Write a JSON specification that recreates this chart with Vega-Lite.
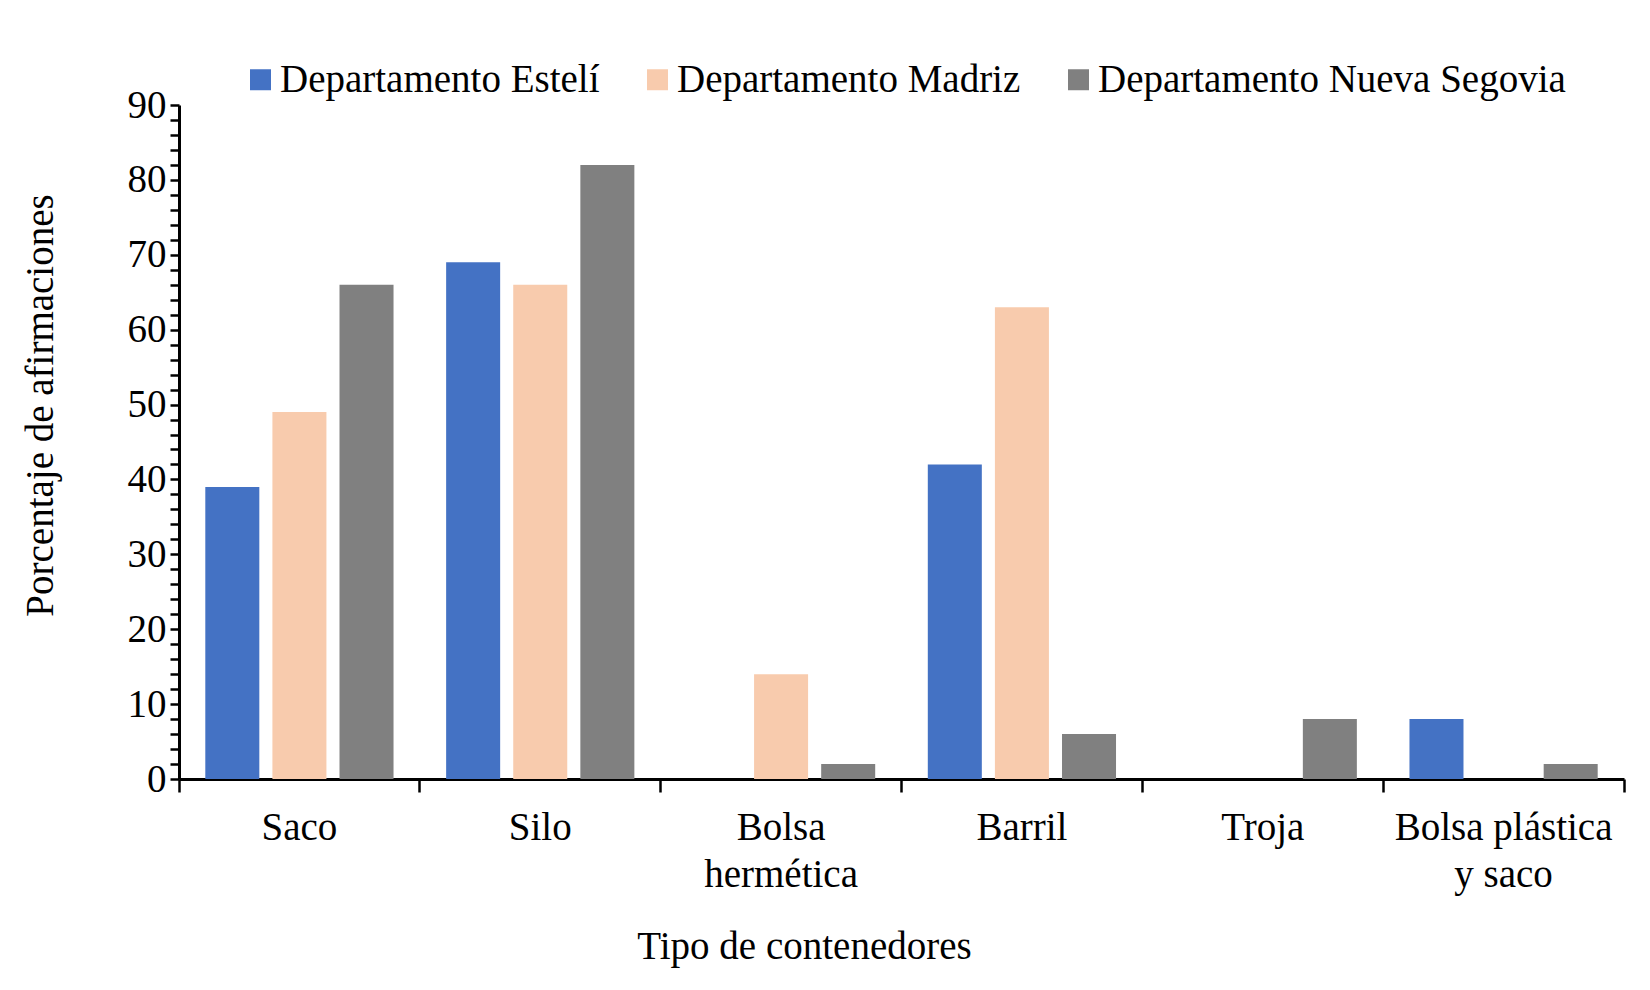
{
  "$schema": "https://vega.github.io/schema/vega-lite/v6.json",
  "autosize": {"type": "none"},
  "width": 1445,
  "height": 674,
  "padding": {"left": 179, "top": 105, "right": 26, "bottom": 211},
  "background": "white",
  "config": {
    "view": {"stroke": null},
    "font": "Liberation Serif",
    "axis": {"grid": false, "domainColor": "black", "tickColor": "black", "labelColor": "black", "titleColor": "black", "labelFont": "Liberation Serif", "titleFont": "Liberation Serif", "titleFontWeight": "normal"},
    "legend": {"labelFont": "Liberation Serif"}
  },
  "data": {
    "values": [
      {"tipo": "Saco", "departamento": "Departamento Estelí", "porcentaje": 39},
      {"tipo": "Saco", "departamento": "Departamento Madriz", "porcentaje": 49},
      {"tipo": "Saco", "departamento": "Departamento Nueva Segovia", "porcentaje": 66},
      {"tipo": "Silo", "departamento": "Departamento Estelí", "porcentaje": 69},
      {"tipo": "Silo", "departamento": "Departamento Madriz", "porcentaje": 66},
      {"tipo": "Silo", "departamento": "Departamento Nueva Segovia", "porcentaje": 82},
      {"tipo": "Bolsa hermética", "departamento": "Departamento Estelí", "porcentaje": 0},
      {"tipo": "Bolsa hermética", "departamento": "Departamento Madriz", "porcentaje": 14},
      {"tipo": "Bolsa hermética", "departamento": "Departamento Nueva Segovia", "porcentaje": 2},
      {"tipo": "Barril", "departamento": "Departamento Estelí", "porcentaje": 42},
      {"tipo": "Barril", "departamento": "Departamento Madriz", "porcentaje": 63},
      {"tipo": "Barril", "departamento": "Departamento Nueva Segovia", "porcentaje": 6},
      {"tipo": "Troja", "departamento": "Departamento Estelí", "porcentaje": 0},
      {"tipo": "Troja", "departamento": "Departamento Madriz", "porcentaje": 0},
      {"tipo": "Troja", "departamento": "Departamento Nueva Segovia", "porcentaje": 8},
      {"tipo": "Bolsa plástica y saco", "departamento": "Departamento Estelí", "porcentaje": 8},
      {"tipo": "Bolsa plástica y saco", "departamento": "Departamento Madriz", "porcentaje": 0},
      {"tipo": "Bolsa plástica y saco", "departamento": "Departamento Nueva Segovia", "porcentaje": 2}
    ]
  },
  "encoding": {
    "xOffset": {
      "field": "departamento",
      "type": "nominal",
      "sort": ["Departamento Estelí", "Departamento Madriz", "Departamento Nueva Segovia"],
      "scale": {"paddingInner": 0.195, "paddingOuter": 0.392}
    },
    "y": {
      "field": "porcentaje",
      "type": "quantitative",
      "scale": {"domain": [0, 90], "nice": false},
      "axis": {
        "title": "Porcentaje de afirmaciones",
        "titleFontSize": 39,
        "titleX": -139,
        "titleY": 300,
        "titleAlign": "center",
        "titleBaseline": "middle",
        "titleAnchor": null,
        "values": [0, 2, 4, 6, 8, 10, 12, 14, 16, 18, 20, 22, 24, 26, 28, 30, 32, 34, 36, 38, 40, 42, 44, 46, 48, 50, 52, 54, 56, 58, 60, 62, 64, 66, 68, 70, 72, 74, 76, 78, 80, 82, 84, 86, 88, 90],
        "labelExpr": "datum.value % 10 === 0 ? datum.label : ''",
        "labelFontSize": 39,
        "labelPadding": 4,
        "tickSize": 9,
        "tickWidth": 2.5,
        "domainWidth": 3,
        "labelOverlap": false
      }
    },
    "color": {
      "field": "departamento",
      "type": "nominal",
      "sort": ["Departamento Estelí", "Departamento Madriz", "Departamento Nueva Segovia"],
      "scale": {"domain": ["Departamento Estelí", "Departamento Madriz", "Departamento Nueva Segovia"], "range": ["#4472C4", "#F8CBAD", "#808080"]},
      "legend": {
        "title": null,
        "orient": "none",
        "direction": "horizontal",
        "legendX": 62,
        "legendY": -45,
        "symbolType": "square",
        "symbolSize": 441,
        "symbolStrokeWidth": 0,
        "symbolOpacity": 1,
        "labelFontSize": 39,
        "labelColor": "black",
        "labelOffset": 0,
        "columnPadding": 38,
        "labelLimit": 0
      }
    }
  },
  "layer": [
    {
      "mark": {"type": "bar"},
      "encoding": {
        "x": {
          "field": "tipo",
          "type": "nominal",
          "sort": ["Saco", "Silo", "Bolsa hermética", "Barril", "Troja", "Bolsa plástica y saco"],
          "scale": {"paddingInner": 0, "paddingOuter": 0},
          "axis": {
            "title": "Tipo de contenedores",
            "titleFontSize": 39,
            "titleX": 625,
            "titleY": 179,
            "titleAlign": "center",
            "titleBaseline": "alphabetic",
            "titleAnchor": null,
            "labelFontSize": 39,
            "labelAngle": 0,
            "labelBaseline": "top",
            "labelPadding": 16,
            "labelLineHeight": 47,
            "labelLimit": 0,
            "labelExpr": "datum.label == 'Bolsa hermética' ? ['Bolsa', 'hermética'] : (datum.label == 'Bolsa plástica y saco' ? ['Bolsa plástica', 'y saco'] : datum.label)",
            "bandPosition": 0,
            "tickSize": 13,
            "tickWidth": 2.5,
            "domainWidth": 3
          }
        }
      }
    },
    {
      "mark": {"type": "bar", "opacity": 0},
      "encoding": {
        "x": {
          "field": "tipo",
          "type": "nominal",
          "sort": ["Saco", "Silo", "Bolsa hermética", "Barril", "Troja", "Bolsa plástica y saco"],
          "axis": {
            "orient": "bottom",
            "title": null,
            "labels": false,
            "domain": false,
            "values": ["Bolsa plástica y saco"],
            "bandPosition": 1,
            "tickSize": 13,
            "tickWidth": 2.5
          }
        }
      }
    }
  ],
  "resolve": {"axis": {"x": "independent"}}
}
